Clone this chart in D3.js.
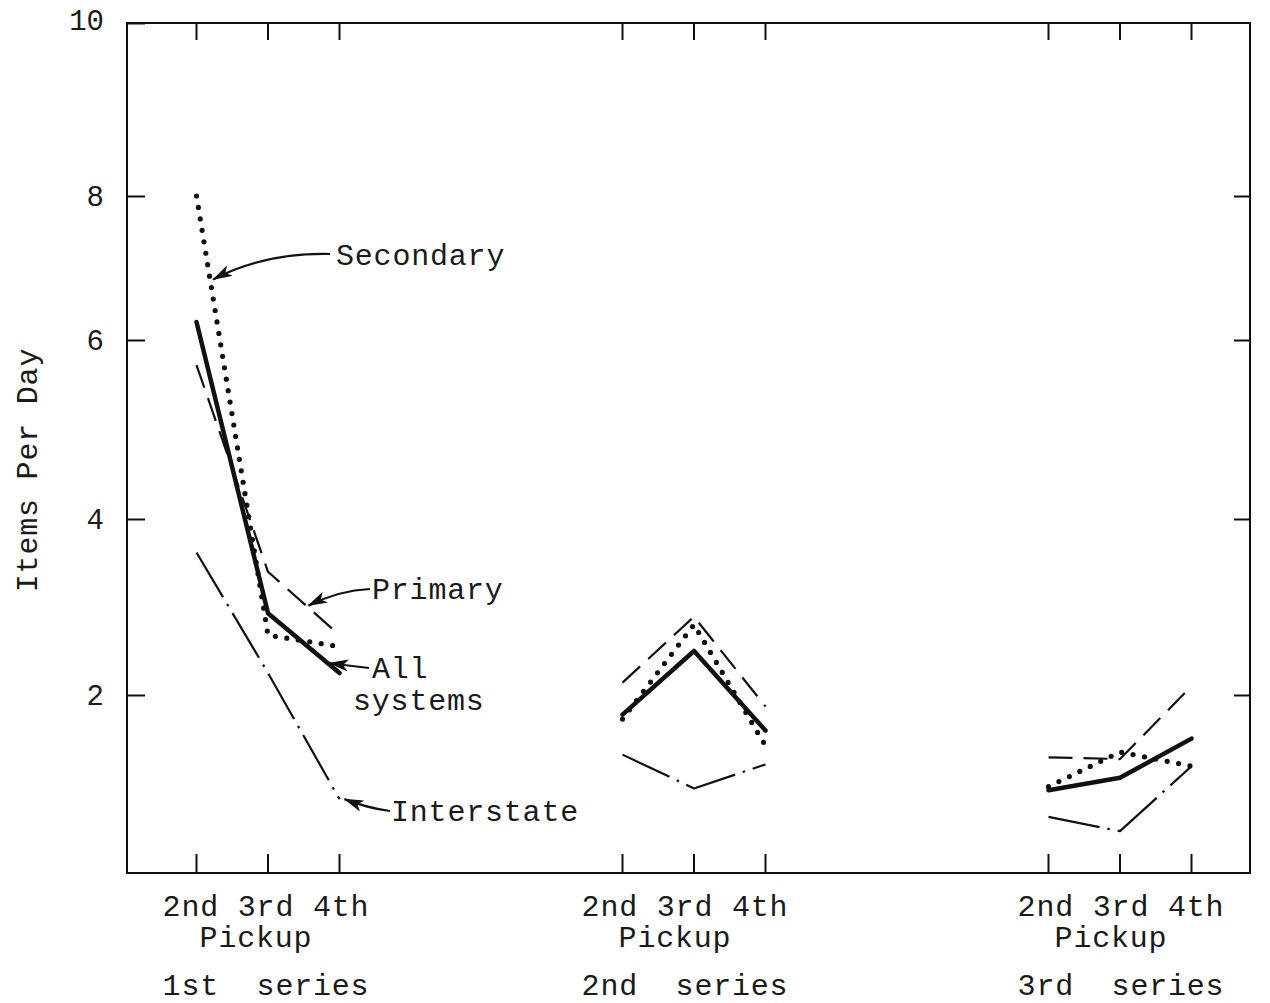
<!DOCTYPE html>
<html>
<head>
<meta charset="utf-8">
<script src="https://cdn.jsdelivr.net/npm/d3@7"></script>
<style>
  html, body { margin: 0; padding: 0; background: #fff; }
  svg text { font-family: "Liberation Mono", "DejaVu Sans Mono", monospace; fill: #1a1a1a; white-space: pre; }
</style>
</head>
<body>
<svg id="chart" width="1270" height="1003"></svg>
<script>
// ---- data ----
const groups = ["1st  series", "2nd  series", "3rd  series"];
const pickups = ["2nd", "3rd", "4th"];
const yTicks = [2, 4, 6, 8, 10];
const yTickAnchors = [0, 2, 4, 6, 8, 10];
// values per group: [g1: 2nd,3rd,4th, g2: ..., g3: ...]
const allSystems = [6.25, 2.93, 2.25, 1.78, 2.50, 1.60, 0.93, 1.07, 1.51];
const secondary  = [8.00, 2.68, 2.55, 1.73, 2.80, 1.43, 0.97, 1.36, 1.20];
const primary    = [5.72, 3.40, 2.68, 2.14, 2.89, 1.87, 1.30, 1.28, 2.10];
const interstate = [3.62, 2.25, 0.83, 1.33, 0.95, 1.22, 0.63, 0.47, 1.20];
const seriesNames = ["All systems", "Secondary", "Primary", "Interstate"];

// ---- layout ----
const L = 127, R = 1250, T = 23, B = 873;
const labelShift = [-2, -9, 1];
const svg = d3.select("#chart");

// hand-drawn axis: tick spacing in original is slightly uneven
const y = d3.scaleLinear().domain(yTickAnchors).range([873, 695, 519, 340, 196, 23]);
const gx = d3.scalePoint().domain(groups).range([268, 1120]);
const px = d3.scalePoint().domain(pickups).range([-71.5, 71.5]);
const xAt = (gi, pi) => gx(groups[gi]) + px(pickups[pi]);

// frame
svg.append("rect").attr("x", L).attr("y", T).attr("width", R - L).attr("height", B - T)
  .attr("fill", "none").attr("stroke", "#111").attr("stroke-width", 2);

// left axis
const la = svg.append("g").attr("transform", `translate(${L},0)`)
  .call(d3.axisLeft(y).tickValues(yTicks).tickSize(-18).tickPadding(23).tickFormat(d3.format("d")));
la.select(".domain").remove();
la.selectAll(".tick line").attr("stroke", "#111").attr("stroke-width", 2);
la.selectAll(".tick text").attr("font-size", 29).attr("fill", "#1a1a1a")
  .attr("font-family", "Liberation Mono, monospace").attr("dy", "0.32em");
la.selectAll(".tick").filter(d => d === 10).select("text").attr("dy", "0.22em");

// right axis ticks
const ra = svg.append("g").attr("transform", `translate(${R},0)`)
  .call(d3.axisRight(y).tickValues(yTicks.slice(0, 4)).tickSize(-16).tickFormat(""));
ra.select(".domain").remove();
ra.selectAll(".tick line").attr("stroke", "#111").attr("stroke-width", 2);

// bottom & top ticks
const tickPts = [];
groups.forEach((g, gi) => pickups.forEach((p, pi) => tickPts.push(xAt(gi, pi))));
svg.append("g").selectAll("line.bt").data(tickPts).join("line")
  .attr("x1", d => d).attr("x2", d => d).attr("y1", B).attr("y2", B - 19)
  .attr("stroke", "#111").attr("stroke-width", 2);
svg.append("g").selectAll("line.tt").data(tickPts).join("line")
  .attr("x1", d => d).attr("x2", d => d).attr("y1", T).attr("y2", T + 17)
  .attr("stroke", "#111").attr("stroke-width", 2);

// x labels
const fs = 30, ls = 0.8;
groups.forEach((g, gi) => {
  const cx = gx(g) + labelShift[gi];
  svg.append("text").attr("x", cx).attr("y", 916).attr("text-anchor", "middle")
    .attr("font-size", fs).attr("letter-spacing", ls).text(pickups.join(" "));
  svg.append("text").attr("x", cx - 10).attr("y", 947).attr("text-anchor", "middle")
    .attr("font-size", fs).attr("letter-spacing", ls).text("Pickup");
  svg.append("text").attr("x", cx).attr("y", 995).attr("text-anchor", "middle")
    .attr("font-size", fs).attr("letter-spacing", ls).text(g);
});

// y label
svg.append("text").attr("transform", "translate(37,470) rotate(-90)")
  .attr("text-anchor", "middle").attr("font-size", fs).attr("letter-spacing", ls)
  .text("Items Per Day");

// ---- lines ----
const styles = {
  "All systems": { w: 4.5, dash: null, cap: "round" },
  "Secondary":   { w: 5.2, dash: "0,11.6", cap: "round" },
  "Primary":     { w: 2.2, dash: "24,11", cap: "butt" },
  "Interstate":  { w: 2.2, dash: "52,8,2.5,8", cap: "butt" }
};
const seriesVals = { "All systems": allSystems, "Secondary": secondary, "Primary": primary, "Interstate": interstate };
const line = d3.line().x(d => d[0]).y(d => d[1]);
const ptsOf = (name, gi) => pickups.map((p, pi) => [xAt(gi, pi), y(seriesVals[name][gi * 3 + pi])]);

["Interstate", "Primary", "Secondary", "All systems"].forEach(name => {
  const st = styles[name];
  groups.forEach((g, gi) => {
    svg.append("path").attr("d", line(ptsOf(name, gi)))
      .attr("fill", "none").attr("stroke", "#111").attr("stroke-width", st.w)
      .attr("stroke-linecap", st.cap).attr("stroke-linejoin", "round")
      .attr("stroke-dasharray", st.dash);
  });
});

// ---- annotations ----
svg.append("defs").append("marker").attr("id", "ah")
  .attr("viewBox", "0 0 20 12").attr("refX", 19).attr("refY", 6)
  .attr("markerWidth", 20).attr("markerHeight", 12).attr("markerUnits", "userSpaceOnUse")
  .attr("orient", "auto")
  .append("path").attr("d", "M0,0 L20,6 L0,12 L5,6 Z").attr("fill", "#111");

function along(name, gi, seg, t) {
  const p = ptsOf(name, gi);
  return [p[seg][0] + (p[seg + 1][0] - p[seg][0]) * t, p[seg][1] + (p[seg + 1][1] - p[seg][1]) * t];
}
const ann = [
  { text: ["Secondary"], tx: 336, ty: 265, tip: along("Secondary", 0, 0, 0.19), off: [3, 0], from: [330, 254], bend: [-8, -14] },
  { text: ["Primary"], tx: 372, ty: 599, tip: along("Primary", 0, 1, 0.55), off: [1, -1], from: [370, 589], bend: [0, -7] },
  { text: ["All", "systems"], tx: 372, ty: 678, tip: along("All systems", 0, 1, 0.87), off: [-1, -2], from: [369, 668], bend: [0, 0] },
  { text: ["Interstate"], tx: 391, ty: 821, tip: along("Interstate", 0, 1, 1.0), off: [5, 0], from: [390, 811], bend: [0, 3] }
];
ann.forEach(a => {
  const tip = [a.tip[0] + a.off[0], a.tip[1] + a.off[1]];
  const mx = (a.from[0] + tip[0]) / 2 + a.bend[0], my = (a.from[1] + tip[1]) / 2 + a.bend[1];
  svg.append("path").attr("d", `M${a.from[0]},${a.from[1]} Q${mx},${my} ${tip[0]},${tip[1]}`)
    .attr("fill", "none").attr("stroke", "#111").attr("stroke-width", 2.2).attr("marker-end", "url(#ah)");
  a.text.forEach((t, i) => {
    svg.append("text").attr("x", i === 0 ? a.tx : a.tx - 19).attr("y", a.ty + i * 32)
      .attr("font-size", fs).attr("letter-spacing", ls).text(t);
  });
});
</script>
</body>
</html>
